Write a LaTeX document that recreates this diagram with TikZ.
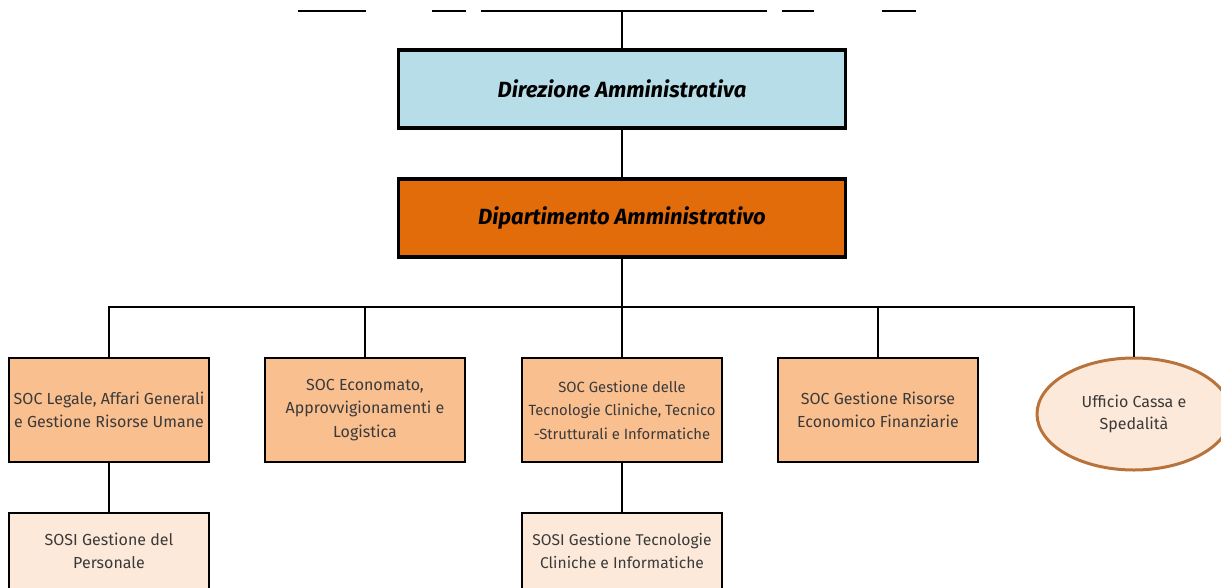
\documentclass[tikz,border=0pt]{standalone}
\usepackage{fontspec}
\setmainfont{Fira Sans}
\usetikzlibrary{shapes.geometric}
\definecolor{dirblue}{HTML}{B7DDE8}
\definecolor{diporange}{HTML}{E36C0A}
\definecolor{socfill}{HTML}{FABF8F}
\definecolor{sosifill}{HTML}{FDE9D9}
\definecolor{ovalline}{HTML}{B8733C}
\definecolor{txtgrey}{HTML}{3A3A3A}
\tikzset{
  topbox/.style={draw=black, line width=3.5pt, minimum width=447pt, minimum height=78pt, inner sep=0pt, font=\fontsize{22}{25}\selectfont\bfseries\itshape},
  socbox/.style={draw=black, line width=2.5pt, fill=socfill, minimum width=200pt, minimum height=104pt, inner sep=0pt, align=center, text=txtgrey, font=\fontsize{16}{23.5}\selectfont},
  sosibox/.style={socbox, fill=sosifill, minimum height=76pt},
  ovalbox/.style={ellipse, draw=ovalline, line width=3pt, fill=sosifill, minimum width=194pt, minimum height=112pt, inner sep=0pt, align=center, text=txtgrey, font=\fontsize{16}{21.5}\selectfont},
  conn/.style={draw=black, line width=2pt},
  topline/.style={draw=black, line width=2pt}
}
\begin{document}
\begin{tikzpicture}[x=1pt,y=-1pt]
\useasboundingbox (0,0) rectangle (1221,587);
\clip (0,0) rectangle (1221,587);
% top line fragments
\coordinate (t1a) at (298,11); \coordinate (t1b) at (366,11);
\coordinate (t2a) at (432,11); \coordinate (t2b) at (466,11);
\coordinate (t3a) at (481,11); \coordinate (t3b) at (767,11);
\coordinate (t4a) at (782,11); \coordinate (t4b) at (814,11);
\coordinate (t5a) at (882,11); \coordinate (t5b) at (916,11);
\draw[topline] (t1a) -- (t1b);
\draw[topline] (t2a) -- (t2b);
\draw[topline] (t3a) -- (t3b);
\draw[topline] (t4a) -- (t4b);
\draw[topline] (t5a) -- (t5b);
\coordinate (top) at (622,11);

\node[topbox, fill=dirblue] (dir) at (622,89) {Direzione Amministrativa};
\node[topbox, fill=diporange] (dip) at (622,218) {Dipartimento Amministrativo};

\node[socbox] (soc1) at (109,410) {SOC Legale, Affari Generali\\e Gestione Risorse Umane};
\node[socbox] (soc2) at (365,410) {SOC Economato,\\Approvvigionamenti e\\Logistica};
\node[socbox, font=\fontsize{14.8}{23.5}\selectfont] (soc3) at (622,410) {SOC Gestione delle\\Tecnologie Cliniche, Tecnico\\-Strutturali e Informatiche};
\node[socbox] (soc4) at (878,410) {SOC Gestione Risorse\\Economico Finanziarie};
\node[ovalbox] (uff) at (1134,414) {Ufficio Cassa e\\Spedalità};

\node[sosibox] (sosi1) at (109,551) {SOSI Gestione del\\Personale};
\node[sosibox, font=\fontsize{15.6}{23.5}\selectfont] (sosi3) at (622,551) {SOSI Gestione Tecnologie\\Cliniche e Informatiche};

\coordinate (bus) at (622,307);
\draw[conn] (top) -- (dir.north);
\draw[conn] (dir.south) -- (dip.north);
\draw[conn] (dip.south) -- (bus);
\draw[conn] (bus) -| (soc1.north);
\draw[conn] (bus) -| (soc2.north);
\draw[conn] (bus) -- (soc3.north);
\draw[conn] (bus) -| (soc4.north);
\draw[conn] (bus) -| (uff.north);
\draw[conn] (soc1.south) -- (sosi1.north);
\draw[conn] (soc3.south) -- (sosi3.north);
\end{tikzpicture}
\end{document}
